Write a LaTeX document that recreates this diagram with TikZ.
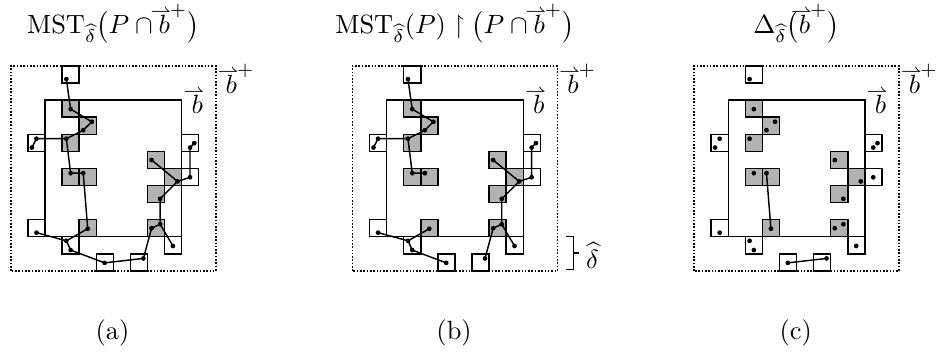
\documentclass[tikz,border=0pt]{standalone}
\usepackage{amsmath,amssymb}
\usepackage{xcolor}
\usepackage{tikz}
\usetikzlibrary{positioning,calc}

\newcommand{\hb}{\mathord{\vbox{\offinterlineskip\halign{##\cr
  \hidewidth$\scriptstyle\rightharpoonup$\kern2.5pt\hidewidth\cr
  \noalign{\kern-0.4pt}$b$\cr}}}}

\tikzset{
  cell/.style={draw,line width=0.55pt},
  graycell/.style={cell,fill=black!30},
  ptdot/.style={circle,fill,inner sep=0pt,minimum size=1.8pt},
  mstedge/.style={line width=0.55pt},
  plusbox/.style={draw,line width=0.6pt,dash pattern=on 0.6pt off 0.65pt},
}

\begin{document}
\begin{tikzpicture}[x=0.2277cm,y=0.2277cm]
    \useasboundingbox (-2.635,-6.81) rectangle (52.34,13.86);

    \foreach \p/\dx/\lbl in {pa/0/a,pb/20/b,pc/40/c}{
      \begin{scope}[shift={(\dx,0)}]
        \draw[plusbox] (-2,-2) rectangle (10,10);
        \foreach \i/\j in {1/7,2/6,1/5,1/3,2/3,6/4,7/3,6/2,2/0,6/0}
          \draw[graycell] (\i,\j) rectangle ++(1,1);
        \foreach \i/\j in {1/9,-1/5,8/5,8/3,-1/0,1/-1,7/-1,3/-2,5/-2}
          \draw[cell] (\i,\j) rectangle ++(1,1);
        \draw[cell] (0,0) rectangle (8,8);

        \node[anchor=base west,inner sep=0pt] (\p-blabel) at (8.55,7.22) {$\hb$};
        \node[anchor=base west,inner sep=0pt] (\p-bplus) at (10.55,8.40) {$\hb^{+}$};
        \node[anchor=base] (\p-cap) at (3.95,-5.99) {(\lbl)};

        \foreach \n/\px/\py in {A/1.25/9.23, B/1.5/7.47, C/2.74/6.73, D/2.24/6.24,
            E/1.25/5.74, F1/-0.5/5.74, F2/-0.77/5.22, G1/8.74/5.48, G2/8.49/5.22,
            H/1.5/3.72, I/2.24/3.72, J/6.24/4.49, K/7.76/3.24, L/8.49/3.48,
            M/6.74/2.22, N/2.5/0.47, O1/6.24/0.5, O2/6.74/0.73, Q/-0.5/0.24,
            R1/1.25/-0.24, R2/1.5/-0.78, S/7.49/-0.54, T/3.49/-1.53, U/5.76/-1.27}
          \coordinate (\p-\n) at (\px,\py);
      \end{scope}
    }

    \node[anchor=base] (pa-title) at (4,11.9) {$\mathrm{MST}_{\widehat{\delta}}\bigl(P\cap\hb^{+}\bigr)$};
    \node[anchor=base] (pb-title) at (24,11.9) {$\mathrm{MST}_{\widehat{\delta}}(P)\restriction\bigl(P\cap\hb^{+}\bigr)$};
    \node[anchor=base] (pc-title) at (44,11.9) {$\Delta_{\widehat{\delta}}\bigl(\hb^{+}\bigr)$};

    % edges
    \foreach \p in {pa,pb}
      \draw[mstedge] (\p-A) -- (\p-B) -- (\p-C) -- (\p-D) -- (\p-E) -- (\p-F1) -- (\p-F2)
        (\p-E) -- (\p-H) -- (\p-I)
        (\p-Q) -- (\p-R1) -- (\p-N)
        (\p-R1) -- (\p-R2) -- (\p-T)
        (\p-U) -- (\p-O1) -- (\p-O2) -- (\p-S)
        (\p-O2) -- (\p-M) -- (\p-K) -- (\p-J)
        (\p-K) -- (\p-L) -- (\p-G2) -- (\p-G1);
    \foreach \p in {pa,pc}
      \draw[mstedge] (\p-I) -- (\p-N) (\p-T) -- (\p-U);

    \foreach \p in {pa,pb,pc}
      \foreach \n in {A,B,C,D,E,F1,F2,G1,G2,H,I,J,K,L,M,N,O1,O2,Q,R1,R2,S,T,U}
        \node[ptdot] at (\p-\n) {};

    % delta bracket
    \coordinate (brtop) at (30.93,0);
    \coordinate (brbot) at (30.93,-1.93);
    \coordinate (brmid) at ($(brtop)!0.5!(brbot)$);
    \draw[cell] ($(brtop)+(-0.43,0)$) -- (brtop) -- (brbot) -- ($(brbot)+(-0.43,0)$);
    \draw[cell] (brmid) -- ++(0.35,0);
    \node[anchor=base west,inner sep=0pt] (dhat) at ($(brmid)+(0.72,-0.88)$) {$\widehat{\delta}$};
\end{tikzpicture}
\end{document}
